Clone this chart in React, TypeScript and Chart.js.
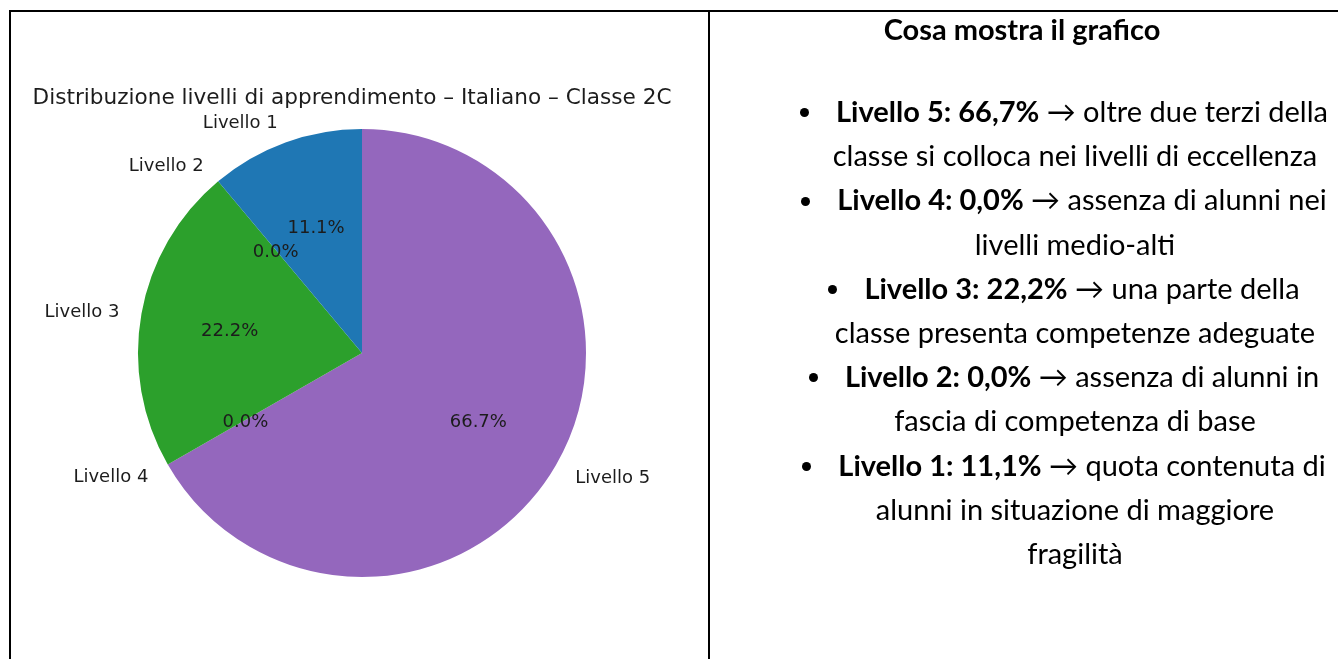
import React, { useEffect, useRef } from "react";
import { Chart, registerables } from "chart.js";

Chart.register(...registerables);

// ---- data ----
const levelLabels = ["Livello 1", "Livello 2", "Livello 3", "Livello 4", "Livello 5"];
const levelShares = [11.1, 0.0, 22.2, 0.0, 66.7];
const levelColors = ["#1f77b4", "#ff7f0e", "#2ca02c", "#d62728", "#9467bd"];
const chartTitle = "Distribuzione livelli di apprendimento – Italiano – Classe 2C";

const panelTitle = "Cosa mostra il grafico";
const bulletHeads = ["Livello 5: 66,7%", "Livello 4: 0,0%", "Livello 3: 22,2%", "Livello 2: 0,0%", "Livello 1: 11,1%"];
const bulletTexts = [
  ["oltre due terzi della", "classe si colloca nei livelli di eccellenza"],
  ["assenza di alunni nei", "livelli medio-alti"],
  ["una parte della", "classe presenta competenze adeguate"],
  ["assenza di alunni in", "fascia di competenza di base"],
  ["quota contenuta di", "alunni in situazione di maggiore", "fragilità"],
];

// ---- layout constants ----
const PIE_CX = 362;
const PIE_CY = 353;
const PIE_R = 224;
const CANVAS_W = 708;
const CANVAS_H = 659;

const TEXT_FONT = "Lato, 'Open Sans', sans-serif";
const TEXT_SIZE = 29;
const LINE_GAP = 44.2;
const FIRST_LINE_Y = 111;
const TITLE_Y = 29;
const TITLE_CENTER_X = 1022;
const FIRST_CENTER_X = 1064;
const CONT_CENTER_X = 1075;

const pieLabelPlugin = {
  id: "pieLabels",
  afterDatasetsDraw(chart: any) {
    const ctx = chart.ctx;
    const meta = chart.getDatasetMeta(0);
    const ds = chart.data.datasets[0];
    const values: number[] = ds.data as number[];
    const labels: string[] = chart.data.labels as string[];
    const total = values.reduce((a, b) => a + b, 0);
    ctx.save();
    meta.data.forEach((arc: any, i: number) => {
      const p = arc.getProps(["x", "y", "startAngle", "endAngle", "outerRadius"], true);
      const mid = (p.startAngle + p.endAngle) / 2;
      const c = Math.cos(mid);
      const s = Math.sin(mid);
      ctx.fillStyle = "#1c1c1c";
      ctx.font = "18px 'DejaVu Sans'";
      ctx.textBaseline = "middle";
      ctx.textAlign = "center";
      const pct = ((values[i] / total) * 100).toFixed(1) + "%";
      ctx.fillText(pct, p.x + 0.6 * p.outerRadius * c, p.y + 0.6 * p.outerRadius * s + 2);
      ctx.textAlign = c < 0 ? "right" : "left";
      ctx.fillText(labels[i], p.x + 1.1 * p.outerRadius * c, p.y + 1.1 * p.outerRadius * s + 2);
    });
    ctx.font = "21.6px 'DejaVu Sans'";
    ctx.textAlign = "center";
    ctx.textBaseline = "middle";
    ctx.fillStyle = "#1c1c1c";
    ctx.fillText(chartTitle, 352, 98);
    ctx.restore();
  },
};

function PieChart() {
  const ref = useRef<HTMLCanvasElement | null>(null);
  useEffect(() => {
    if (!ref.current) return;
    // matplotlib draws counter-clockwise from the top; Chart.js draws clockwise,
    // so feed the levels in reverse order.
    const idx = levelLabels.map((_, i) => i).reverse();
    const chart = new Chart(ref.current, {
      type: "pie",
      data: {
        labels: idx.map((i) => levelLabels[i]),
        datasets: [
          {
            data: idx.map((i) => levelShares[i]),
            backgroundColor: idx.map((i) => levelColors[i]),
            borderWidth: 0,
            hoverOffset: 0,
            offset: 0,
          },
        ],
      },
      options: {
        responsive: false,
        animation: false,
        devicePixelRatio: 1,
        events: [],
        layout: {
          padding: {
            left: PIE_CX - PIE_R,
            right: CANVAS_W - (PIE_CX + PIE_R),
            top: PIE_CY - PIE_R,
            bottom: CANVAS_H - (PIE_CY + PIE_R),
          },
        },
        plugins: {
          legend: { display: false },
          tooltip: { enabled: false },
          title: { display: false },
        },
      },
      plugins: [pieLabelPlugin],
    });
    return () => chart.destroy();
  }, []);
  return (
    <canvas
      ref={ref}
      width={CANVAS_W}
      height={CANVAS_H}
      style={{ position: "absolute", left: 0, top: 0, width: CANVAS_W, height: CANVAS_H }}
    />
  );
}

function TextLine({ y, cx, children, bold }: { y: number; cx: number; children: any; bold?: boolean }) {
  const h = 44;
  const w = 900;
  return (
    <div
      style={{
        position: "absolute",
        left: cx - w / 2,
        width: w,
        top: y - h / 2,
        height: h,
        lineHeight: h + "px",
        textAlign: "center",
        whiteSpace: "nowrap",
        fontFamily: TEXT_FONT,
        fontSize: TEXT_SIZE,
        fontWeight: bold ? 700 : 400,
        color: "#000",
      }}
    >
      {children}
    </div>
  );
}

export default function App() {
  let lineIndex = 0;
  const lines: any[] = [];
  bulletHeads.forEach((head, k) => {
    const parts = bulletTexts[k];
    parts.forEach((part, j) => {
      const y = FIRST_LINE_Y + LINE_GAP * lineIndex;
      lineIndex++;
      if (j === 0) {
        lines.push(
          <TextLine key={`${k}-${j}`} y={y} cx={FIRST_CENTER_X}>
            <span
              style={{
                display: "inline-block",
                width: 9,
                height: 9,
                borderRadius: "50%",
                background: "#000",
                verticalAlign: "middle",
                marginRight: 27,
                position: "relative",
                top: -2,
              }}
            />
            <b>{head}</b> → {part}
          </TextLine>
        );
      } else {
        lines.push(
          <TextLine key={`${k}-${j}`} y={y} cx={CONT_CENTER_X}>
            {part}
          </TextLine>
        );
      }
    });
  });

  return (
    <div
      style={{
        position: "absolute",
        left: 0,
        top: 0,
        width: 1338,
        height: 659,
        overflow: "hidden",
        background: "#fff",
      }}
    >
      <PieChart />
      <div style={{ position: "absolute", left: 9, top: 10, width: 1400, height: 2, background: "#000" }} />
      <div style={{ position: "absolute", left: 9, top: 10, width: 2, height: 700, background: "#000" }} />
      <div style={{ position: "absolute", left: 708, top: 10, width: 2, height: 700, background: "#000" }} />
      <TextLine y={TITLE_Y} cx={TITLE_CENTER_X} bold>
        {panelTitle}
      </TextLine>
      {lines}
    </div>
  );
}
